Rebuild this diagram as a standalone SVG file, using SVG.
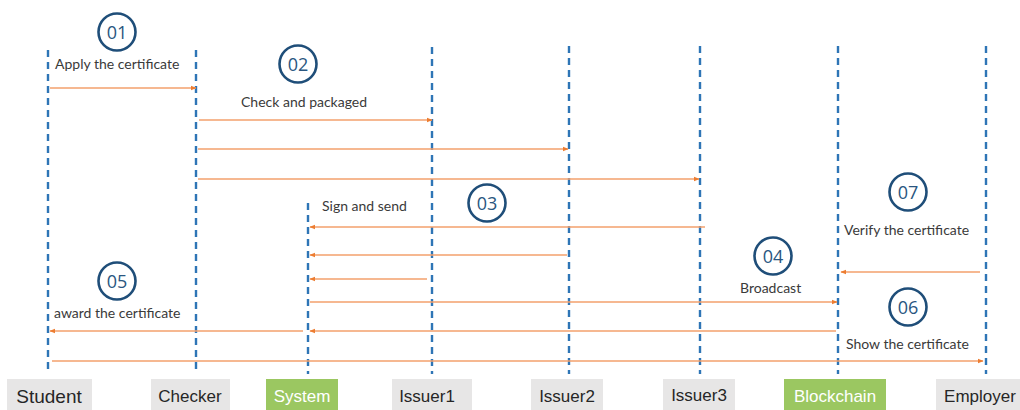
<svg xmlns="http://www.w3.org/2000/svg" width="1020" height="410" viewBox="0 0 1020 410">
  <style>
    .life { stroke: #2e75b6; stroke-width: 2.4; stroke-dasharray: 7 5; fill: none; }
    .msg { stroke: #f3a06c; stroke-width: 1.4; fill: none; marker-end: url(#arrow); }
    .step circle { fill: #ffffff; stroke: #1f4e79; stroke-width: 2.6; }
    .step text { font-family: "Open Sans", "Liberation Sans", sans-serif; font-size: 18px; font-weight: 500; fill: #2a5680; text-anchor: middle; }
    .note { font-family: "Lato", "Open Sans", sans-serif; font-size: 14px; fill: #3a3a3a; }
    .box { fill: #e7e6e6; }
    .box.hl { fill: #9bc761; }
    .actor text { font-family: "Liberation Sans", Arial, sans-serif; font-size: 17px; fill: #262626; text-anchor: middle; }
    .actor text.hl { fill: #ffffff; }
  </style>
  <defs>
    <marker id="arrow" viewBox="0 0 10 10" refX="9" refY="5" markerWidth="6" markerHeight="6" markerUnits="userSpaceOnUse" orient="auto">
      <path d="M0,1 L10,5 L0,9 Z" fill="#ed7d31"/>
    </marker>
  </defs>

  <rect width="1020" height="410" fill="#ffffff"/>

  <!-- lifelines -->
  <g id="lifelines">
    <line class="life" x1="48" y1="50" x2="48" y2="374"/>
    <line class="life" x1="196" y1="50" x2="196" y2="374"/>
    <line class="life" x1="308" y1="203" x2="308" y2="374"/>
    <line class="life" x1="432" y1="47" x2="432" y2="374"/>
    <line class="life" x1="569" y1="46" x2="569" y2="374"/>
    <line class="life" x1="700" y1="46" x2="700" y2="374"/>
    <line class="life" x1="838" y1="46" x2="838" y2="374"/>
    <line class="life" x1="986" y1="46" x2="986" y2="374"/>
  </g>

  <!-- messages -->
  <g id="connectors">
    <line class="msg" x1="50" y1="88" x2="196" y2="88"/>
    <line class="msg" x1="199" y1="120" x2="432" y2="120"/>
    <line class="msg" x1="198" y1="149" x2="568" y2="149"/>
    <line class="msg" x1="198" y1="179" x2="699" y2="179"/>
    <line class="msg" x1="705" y1="227" x2="310" y2="227"/>
    <line class="msg" x1="567" y1="255" x2="310" y2="255"/>
    <line class="msg" x1="427" y1="279" x2="310" y2="279"/>
    <line class="msg" x1="310" y1="302" x2="837" y2="302"/>
    <line class="msg" x1="980" y1="272" x2="841" y2="272"/>
    <line class="msg" x1="836" y1="331" x2="310" y2="331"/>
    <line class="msg" x1="303" y1="331" x2="50" y2="331"/>
    <line class="msg" x1="52" y1="361" x2="983" y2="361"/>
  </g>

  <!-- step badges -->
  <g id="step01" class="step"><circle cx="117" cy="32" r="18.5"/><text x="117" y="38.5">01</text></g>
  <g id="step02" class="step"><circle cx="298" cy="64" r="18.5"/><text x="298" y="70.5">02</text></g>
  <g id="step03" class="step"><circle cx="487" cy="203" r="18.5"/><text x="487" y="209.5">03</text></g>
  <g id="step04" class="step"><circle cx="773" cy="256" r="18.5"/><text x="773" y="262.5">04</text></g>
  <g id="step05" class="step"><circle cx="117" cy="281" r="18.5"/><text x="117" y="287.5">05</text></g>
  <g id="step06" class="step"><circle cx="908" cy="307" r="18.5"/><text x="908" y="313.5">06</text></g>
  <g id="step07" class="step"><circle cx="908" cy="192" r="18.5"/><text x="908" y="198.5">07</text></g>

  <!-- message labels -->
  <g id="labels">
    <text class="note" x="55" y="69">Apply the certificate</text>
    <text class="note" x="241" y="107">Check and packaged</text>
    <text class="note" x="322" y="211">Sign and send</text>
    <text class="note" x="740" y="293">Broadcast</text>
    <text class="note" x="54" y="318">award the certificate</text>
    <text class="note" x="844" y="235">Verify the certificate</text>
    <text class="note" x="846" y="349">Show the certificate</text>
  </g>

  <!-- actors -->
  <g id="student" class="actor"><rect class="box" x="7" y="379" width="85" height="33"/><text x="49" y="403" style="font-size:19px">Student</text></g>
  <g id="checker" class="actor"><rect class="box" x="151" y="379" width="79" height="33"/><text x="190" y="402">Checker</text></g>
  <g id="system" class="actor"><rect class="box hl" x="266" y="379" width="72" height="33"/><text class="hl" x="302" y="402">System</text></g>
  <g id="issuer1" class="actor"><rect class="box" x="392" y="379" width="80" height="33"/><text x="427" y="402">Issuer1</text></g>
  <g id="issuer2" class="actor"><rect class="box" x="531" y="379" width="72" height="33"/><text x="567" y="402">Issuer2</text></g>
  <g id="issuer3" class="actor"><rect class="box" x="663" y="379" width="72" height="33"/><text x="699" y="401">Issuer3</text></g>
  <g id="blockchain" class="actor"><rect class="box hl" x="784" y="379" width="102" height="33"/><text class="hl" x="835" y="402">Blockchain</text></g>
  <g id="employer" class="actor"><rect class="box" x="936" y="379" width="90" height="33"/><text x="980" y="402">Employer</text></g>
</svg>
